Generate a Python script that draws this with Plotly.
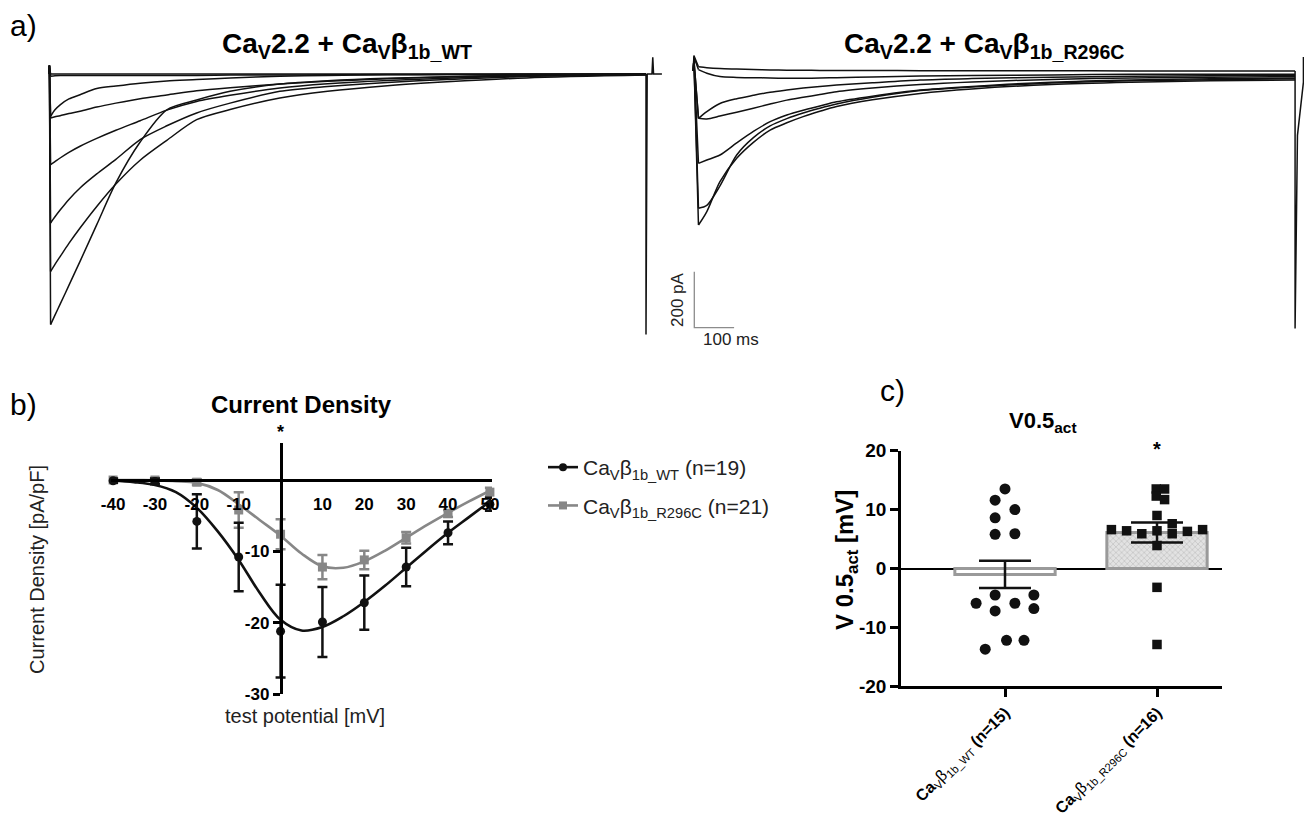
import plotly.graph_objects as go

# reference canvas is 1312x827; the page body keeps its default 8px margin,
# so the figure itself is 16px smaller and everything is placed in page pixels.
PAGE_W, PAGE_H, OFF = 1312, 827, 8
FW, FH = PAGE_W - 2 * OFF, PAGE_H - 2 * OFF
FONT = "Arial, 'Liberation Sans', Helvetica, sans-serif"
BLACK = "#111111"
GRAY = "#878787"

# ---------------- a) current traces: time [ms], current [pA] ----------------
t_wt = [0, 1, 4, 15, 28, 50, 78, 120, 168, 229, 296, 371, 455, 580, 700, 850, 1000, 1200, 1500]
wt_i_flat0 = [0, 30, 0, 0, 0, 0, 0, 0, 0, 0, 0, 0, 0, 0, 0, 0, 0, 0, 0]
wt_i_flat1 = [0, 30, -8, -6, -5, -5, -5, -5, -5, -5, -5, -5, -4, -4, -3, -2, -2, -1, 0]
wt_i_a = [0, 30, -151, -128, -110, -89, -74, -52, -43, -33, -25, -20, -14, -8, -5, -3, -2, -1, 0]
wt_i_b = [0, 30, -157, -153, -149, -141, -133, -118, -104, -88, -75, -60, -49, -36, -26, -17, -11, -5, -1]
wt_i_c = [0, 30, -324, -313, -300, -280, -258, -230, -201, -167, -129, -98, -76, -50, -35, -23, -15, -7, -2]
wt_i_d = [0, 30, -532, -510, -486, -448, -407, -357, -305, -234, -185, -139, -104, -62, -45, -30, -20, -9, -3]
wt_i_e = [0, 30, -705, -680, -652, -605, -550, -473, -393, -308, -237, -163, -127, -86, -62, -42, -28, -14, -4]
wt_i_f = [0, 30, -895, -861, -822, -755, -669, -538, -389, -243, -128, -93, -62, -36, -24, -15, -10, -4, -1]
t_wt_tail = [1500, 1500, 1503, 1515, 1517, 1519, 1540]
wt_i_tail = [0, -930, 0, 0, 60, 0, 0]

t_mut = [0, 1.5, 13, 34, 67, 109, 151, 193, 235, 276, 318, 360, 450, 570, 700, 900, 1100, 1300, 1512]
mut_i_0 = [0, 55, 15, 12, 9, 7, 5, 4, 3, 3, 2, 2, 2, 1, 1, 1, 0, 0, 0]
mut_i_0b = [0, 50, 5, -8, -20, -23, -24, -25, -26, -26, -25, -24, -21, -18, -16, -14, -12, -12, -12]
mut_i_1a = [0, 40, -169, -145, -116, -99, -87, -76, -68, -61, -55, -50, -42, -32, -27, -22, -19, -17, -15]
mut_i_1b = [0, 40, -169, -171, -161, -147, -133, -118, -104, -94, -84, -74, -61, -48, -39, -30, -25, -22, -20]
mut_i_2 = [0, 40, -330, -318, -300, -257, -216, -181, -157, -140, -125, -110, -90, -68, -55, -40, -32, -28, -25]
mut_i_3 = [0, 40, -490, -480, -410, -300, -238, -196, -170, -150, -133, -118, -94, -70, -57, -43, -35, -31, -28]
mut_i_4 = [0, 40, -550, -502, -395, -312, -255, -211, -185, -163, -144, -127, -103, -80, -64, -48, -40, -35, -32]
t_mut_tail = [1512, 1512, 1518, 1526, 1533, 1533, 1538]
mut_i_tail = [0, -920, -230, -120, -40, 50, 0]

scale_pA = 200
scale_ms = 100

# ---------------- b) current density (pA/pF) vs test potential (mV) ----------------
iv_v = [-40, -30, -20, -10, 0, 10, 20, 30, 40, 50]
wt_mean = [-0.1, -0.2, -5.8, -10.8, -21.2, -19.9, -17.2, -12.2, -7.4, -3.4]
wt_sem = [0.3, 0.4, 3.8, 4.8, 6.5, 4.9, 3.8, 2.7, 1.6, 0.9]
mut_mean = [0.0, 0.0, -0.3, -4.2, -7.6, -12.2, -11.2, -8.1, -4.7, -1.7]
mut_sem = [0.2, 0.3, 0.4, 2.5, 2.1, 1.7, 1.3, 0.8, 0.5, 0.6]
fit_v = [-40, -35, -30, -25, -20, -15, -10, -5, 0, 5, 10, 15, 20, 25, 30, 35, 40, 45, 50]
wt_fit = [-0.1, -0.3, -0.7, -1.7, -3.9, -7.2, -11.2, -15.8, -19.6, -21.1, -20.6, -19.1, -17.1, -14.8, -12.3, -9.8, -7.4, -5.2, -3.0]
mut_fit = [0, 0, -0.05, -0.15, -0.4, -1.4, -3.4, -5.6, -7.8, -10.3, -12.1, -12.3, -11.4, -9.9, -8.1, -6.3, -4.6, -3.0, -1.5]
b_xticks = [-40, -30, -20, -10, 10, 20, 30, 40, 50]
b_yticks = [-10, -20, -30]

# ---------------- c) V0.5 act (mV) ----------------
groups = ["WT", "R296C"]
wt_v05 = [13.5, 11.6, 10.0, 8.6, 5.8, 5.9, -4.5, -4.5, -5.9, -5.9, -6.8, -7.2, -12.2, -12.2, -13.7]
wt_jit = [0, -0.065, 0.065, -0.065, -0.065, 0.065, -0.065, 0.19, -0.19, 0.065, 0.19, -0.065, 0.01, 0.125, -0.13]
mut_v05 = [13.5, 13.5, 12.3, 11.7, 9.0, 6.6, 6.4, 5.9, 6.4, 7.6, 5.9, 6.3, 6.6, 3.9, -3.2, -12.9]
mut_jit = [-0.005, 0.05, -0.005, 0.05, 0, -0.30, -0.20, -0.10, 0, 0.10, 0.10, 0.20, 0.30, 0, 0, 0]
v05_mean = [-1.0, 6.1]
v05_sem = [2.3, 1.7]
c_yticks = [-20, -10, 0, 10, 20]


def xp(p):
    return (p - OFF) / FW


def yp(p):
    return 1 - (p - OFF) / FH


def xdom(a, b):
    return [max(0.0, xp(a)), min(1.0, xp(b))]


def ydom(top, bottom):
    return [max(0.0, yp(bottom)), min(1.0, yp(top))]


def hy(v):
    return f"{v:g}"


fig = go.Figure()

# ---------- panel a axes (invisible, linear ms / pA mapping in page pixels) ----------
LX0, LPPX, LY0, LPPY = 49.0, 0.398, 74.0, 0.28
lax, lay = (30, 668), (48, 345)
RX0, RPPX, RY0, RPPY = 693.3, 0.398, 71.0, 0.28
rax, ray = (672, PAGE_W - OFF), (48, 350)

line_style = dict(color=BLACK, width=1.5)


def add_current(t, i, xa, ya):
    # onset (capacitive step) straight, decay smooth
    fig.add_trace(go.Scatter(x=t[:3], y=i[:3], mode="lines", line=line_style,
                             xaxis=xa, yaxis=ya, showlegend=False, hoverinfo="skip"))
    fig.add_trace(go.Scatter(x=t[2:], y=i[2:], mode="lines",
                             line=dict(color=BLACK, width=1.5, shape="spline", smoothing=0.8),
                             xaxis=xa, yaxis=ya, showlegend=False, hoverinfo="skip"))


for arr in [wt_i_flat0, wt_i_flat1, wt_i_a, wt_i_b, wt_i_c, wt_i_d, wt_i_e, wt_i_f]:
    add_current(t_wt, arr, "x", "y")
fig.add_trace(go.Scatter(x=t_wt_tail, y=wt_i_tail, mode="lines", line=line_style,
                         xaxis="x", yaxis="y", showlegend=False, hoverinfo="skip"))
for arr in [mut_i_0, mut_i_0b, mut_i_1a, mut_i_1b, mut_i_2, mut_i_3, mut_i_4]:
    add_current(t_mut, arr, "x2", "y2")
fig.add_trace(go.Scatter(x=t_mut_tail, y=mut_i_tail, mode="lines", line=line_style,
                         xaxis="x2", yaxis="y2", showlegend=False, hoverinfo="skip"))

# scale bar (200 pA / 100 ms) in right-panel units
sb_t0 = (694.3 - RX0) / RPPX
sb_top = (RY0 - 271.7) / RPPY
fig.add_trace(go.Scatter(x=[sb_t0, sb_t0, sb_t0 + scale_ms],
                         y=[sb_top, sb_top - scale_pA, sb_top - scale_pA],
                         mode="lines", line=dict(color="#8c8c8c", width=1.3),
                         xaxis="x2", yaxis="y2", showlegend=False, hoverinfo="skip"))

# ---------- panel b ----------
fig.add_trace(go.Scatter(x=fit_v, y=mut_fit, mode="lines", line=dict(color=GRAY, width=2.6, shape="spline"),
                         xaxis="x3", yaxis="y3", showlegend=False, hoverinfo="skip"))
fig.add_trace(go.Scatter(x=fit_v, y=wt_fit, mode="lines", line=dict(color=BLACK, width=2.6, shape="spline"),
                         xaxis="x3", yaxis="y3", showlegend=False, hoverinfo="skip"))
fig.add_trace(go.Scatter(x=iv_v, y=mut_mean, mode="markers",
                         marker=dict(symbol="square", size=9, color=GRAY),
                         error_y=dict(type="data", array=mut_sem, color=GRAY, thickness=2.5, width=5),
                         xaxis="x3", yaxis="y3", showlegend=False, cliponaxis=False))
fig.add_trace(go.Scatter(x=iv_v, y=wt_mean, mode="markers",
                         marker=dict(symbol="circle", size=9, color=BLACK),
                         error_y=dict(type="data", array=wt_sem, color=BLACK, thickness=2.5, width=5),
                         xaxis="x3", yaxis="y3", showlegend=False, cliponaxis=False))
# legend entries
fig.add_trace(go.Scatter(x=[None], y=[None], mode="lines+markers", name="Ca<sub>V</sub>β<sub>1b_WT</sub> (n=19)",
                         line=dict(color=BLACK, width=2.6), marker=dict(symbol="circle", size=8, color=BLACK),
                         xaxis="x3", yaxis="y3", legendgroup="wt"))
fig.add_trace(go.Scatter(x=[None], y=[None], mode="lines+markers", name="Ca<sub>V</sub>β<sub>1b_R296C</sub> (n=21)",
                         line=dict(color=GRAY, width=2.6), marker=dict(symbol="square", size=8, color=GRAY),
                         xaxis="x3", yaxis="y3", legendgroup="mut"))

# ---------- panel c ----------
fig.add_trace(go.Bar(x=[0], y=[v05_mean[0]], width=0.66,
                     marker=dict(color="rgba(255,255,255,0)", line=dict(color="#9a9a9a", width=3)),
                     xaxis="x4", yaxis="y4", showlegend=False, hoverinfo="skip"))
fig.add_trace(go.Bar(x=[1], y=[v05_mean[1]], width=0.66,
                     marker=dict(color="#dcdcdc", line=dict(color="#9a9a9a", width=3),
                                 pattern=dict(shape="x", fgcolor="#a8a8a8", bgcolor="#e2e2e2", size=4, solidity=0.35)),
                     xaxis="x4", yaxis="y4", showlegend=False, hoverinfo="skip"))
fig.add_trace(go.Scatter(x=[0 + j for j in wt_jit], y=wt_v05, mode="markers",
                         marker=dict(symbol="circle", size=11, color=BLACK),
                         xaxis="x4", yaxis="y4", showlegend=False, cliponaxis=False))
fig.add_trace(go.Scatter(x=[1 + j for j in mut_jit], y=mut_v05, mode="markers",
                         marker=dict(symbol="square", size=9.5, color=BLACK),
                         xaxis="x4", yaxis="y4", showlegend=False, cliponaxis=False))
fig.add_trace(go.Scatter(x=[0, 1], y=v05_mean, mode="markers",
                         marker=dict(size=1, color="rgba(0,0,0,0)"),
                         error_y=dict(type="data", array=v05_sem, color=BLACK, thickness=2.5, width=26),
                         xaxis="x4", yaxis="y4", showlegend=False, hoverinfo="skip"))

# ---------- layout ----------
bx_dom = (111, 492)
b_x_range = [-40.5, 50.5]
b_ppx = (bx_dom[1] - bx_dom[0]) / (b_x_range[1] - b_x_range[0])
b_x0px = bx_dom[0] + (0 - b_x_range[0]) * b_ppx
by_dom = (443, 694)
b_y_range = [-30, 5.19]
b_ppy = (by_dom[1] - by_dom[0]) / (b_y_range[1] - b_y_range[0])
b_y0px = by_dom[0] + (b_y_range[1] - 0) * b_ppy

cx_dom = (901, 1222)
c_cat0px, c_catpx = 1005, 152
cy_dom = (450.7, 686.3)

tickfont_b = dict(family=FONT, size=17, color="black", weight="bold")
cat_text = ["<b>Ca</b><sub>V</sub>β<sub>1b_WT</sub><b> (n=15)</b>",
            "<b>Ca</b><sub>V</sub>β<sub>1b_R296C</sub><b> (n=16)</b>"]

fig.update_layout(
    width=FW, height=FH, margin=dict(l=0, r=0, t=0, b=0, pad=0, autoexpand=False),
    paper_bgcolor="white", plot_bgcolor="rgba(0,0,0,0)",
    font=dict(family=FONT, color="black"),
    barmode="overlay",
    xaxis=dict(domain=xdom(*lax), range=[(lax[0] - LX0) / LPPX, (lax[1] - LX0) / LPPX], visible=False),
    yaxis=dict(domain=ydom(*lay), range=[(LY0 - lay[1]) / LPPY, (LY0 - lay[0]) / LPPY], visible=False),
    xaxis2=dict(domain=xdom(*rax), range=[(rax[0] - RX0) / RPPX, (rax[1] - RX0) / RPPX], visible=False),
    yaxis2=dict(domain=ydom(*ray), range=[(RY0 - ray[1]) / RPPY, (RY0 - ray[0]) / RPPY], visible=False),
    xaxis3=dict(domain=xdom(*bx_dom), range=b_x_range, anchor="free", position=yp(b_y0px),
                showline=True, linecolor="black", linewidth=2.5, showgrid=False, zeroline=False,
                tickvals=b_xticks, ticktext=[hy(v) for v in b_xticks], ticks="", ticklabelstandoff=8,
                tickfont=tickfont_b, automargin=False),
    yaxis3=dict(domain=ydom(*by_dom), range=b_y_range, anchor="free", position=xp(b_x0px),
                showline=True, linecolor="black", linewidth=2.5, showgrid=False, zeroline=False,
                tickvals=b_yticks, ticktext=[hy(v) for v in b_yticks],
                ticks="outside", ticklen=7, tickwidth=2.5, tickcolor="black",
                tickfont=tickfont_b, automargin=False),
    xaxis4=dict(domain=xdom(*cx_dom),
                range=[(cx_dom[0] - c_cat0px) / c_catpx, (cx_dom[1] - c_cat0px) / c_catpx],
                anchor="y4", showline=True, linecolor="black", linewidth=2.5, showgrid=False, zeroline=False,
                tickvals=[0, 1], ticktext=cat_text, tickangle=-45, ticks="outside", ticklen=8,
                tickwidth=2.5, tickcolor="black", tickfont=dict(family=FONT, size=16, color="black"),
                ticklabelstandoff=0, automargin=False),
    yaxis4=dict(domain=ydom(*cy_dom), range=[-20, 20], anchor="x4",
                showline=True, linecolor="black", linewidth=2.5, showgrid=False,
                zeroline=True, zerolinecolor="black", zerolinewidth=2,
                tickvals=c_yticks, ticktext=[hy(v) for v in c_yticks],
                ticks="outside", ticklen=8, tickwidth=2.5, tickcolor="black",
                tickfont=dict(family=FONT, size=19, color="black", weight="bold"), automargin=False),
    legend=dict(x=xp(543), y=yp(447), xanchor="left", yanchor="top",
                font=dict(family=FONT, size=21, color="#222"), tracegroupgap=8,
                bgcolor="rgba(0,0,0,0)", itemwidth=30),
)


def ann(text, x, y, size, bold=False, angle=0, color="black", xanchor="center", yanchor="middle"):
    fig.add_annotation(text=text, x=xp(x), y=yp(y), xref="paper", yref="paper",
                       showarrow=False, textangle=angle, xanchor=xanchor, yanchor=yanchor,
                       font=dict(family=FONT, size=size, color=color, weight="bold" if bold else "normal"))


ann("a)", 8, 26, 30, xanchor="left")
ann("Ca<sub>V</sub>2.2 + Ca<sub>V</sub>β<sub>1b_WT</sub>", 347, 46, 28, bold=True)
ann("Ca<sub>V</sub>2.2 + Ca<sub>V</sub>β<sub>1b_R296C</sub>", 984, 46, 28, bold=True)
ann("200 pA", 678, 300, 17, angle=-90, color="#222")
ann("100 ms", 731, 340, 17, color="#222")

ann("b)", 8, 405, 30, xanchor="left")
ann("Current Density", 301, 404, 24, bold=True)
ann("*", b_x0px, 432, 18, bold=True)
ann("Current Density [pA/pF]", 37, 570, 20, angle=-90, color="#222")
ann("test potential [mV]", 305, 716, 20, color="#222")

ann("c)", 878, 390, 30, xanchor="left")
ann("V0.5<sub>act</sub>", 1043, 422, 22, bold=True)
ann("*", c_cat0px + c_catpx, 449, 20, bold=True)
ann("V 0.5<sub>act</sub> [mV]", 846, 560, 24, bold=True, angle=-90)

fig.write_html("out.html", config={"displayModeBar": False})
